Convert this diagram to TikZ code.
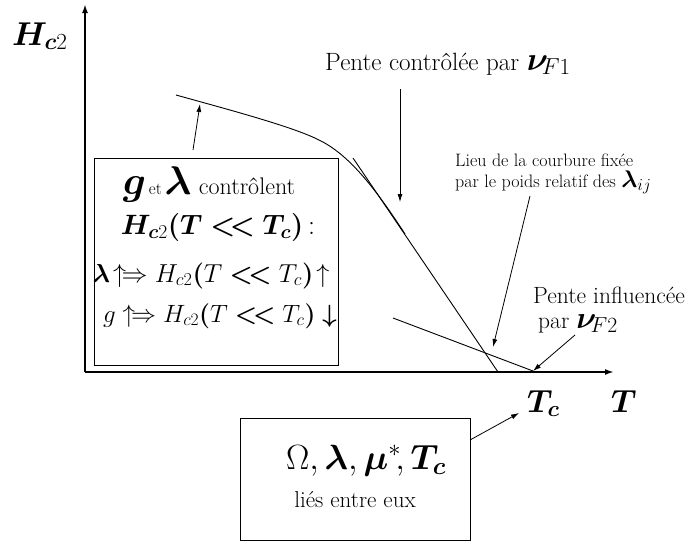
\RequirePackage{fix-cm}
\documentclass[tikz,border=0pt]{standalone}
\usepackage{amsmath}
\usepackage{bm}
\usetikzlibrary{arrows.meta}
\begin{document}
\begin{tikzpicture}[x=1pt,y=-1pt,
  axis/.style={line width=1.8pt,-{Latex[length=9pt,width=6pt]}},
  curve/.style={line width=0.9pt},
  conn/.style={line width=0.8pt,-{Latex[length=8pt,width=5pt]}},
  boxshape/.style={draw,line width=1.2pt,inner sep=0pt,anchor=north west},
  lbl/.style={inner sep=0pt,anchor=base west},
  clbl/.style={inner sep=0pt,anchor=base}]
\useasboundingbox (0,0) rectangle (688,542);

% axes
\coordinate (O) at (85,372);
\coordinate (ytip) at (85,4);
\coordinate (xtip) at (614,372);
\draw[axis] (O) -- (ytip);
\draw[axis] (O) -- (xtip);
\node[lbl] (hc2) at (12,45) {\fontsize{33}{36}\selectfont$\bm{H}_{\bm{c}2}$};
\node[lbl] (Tlab) at (611,412) {\fontsize{32}{36}\selectfont$\bm{T}$};
\node[lbl] (Tclab) at (527,412) {\fontsize{32}{36}\selectfont$\bm{T}_{\bm{c}}$};

% curve and tangents
\coordinate (c0) at (176,95);
\coordinate (c1) at (317,139);
\coordinate (c2) at (405,234);
\draw[curve] (c0) .. controls (230,110) and (290,126) .. (c1)
                  .. controls (345,152) and (370,180) .. (c2);
\coordinate (s0) at (353,158);
\coordinate (s1) at (498,372);
\draw[curve] (s0) -- (s1);
\coordinate (f0) at (393,318);
\coordinate (Tc) at (533,371);
\draw[curve] (f0) -- (Tc);

% left box
\node[boxshape,minimum width=244pt,minimum height=207pt] (box1) at (94,158) {};
\node[clbl] (l1) at (209,194) {\fontsize{40}{44}\selectfont$\bm{g}$\fontsize{17}{20}\selectfont\,et\,\fontsize{40}{44}\selectfont$\bm{\lambda}$\fontsize{24}{28}\selectfont\ contrôlent};
\node[clbl] (l2) at (218,234) {\fontsize{28}{32}\selectfont$\bm{H}_{\bm{c}2}\bm{(T\mathrel{<\!<}T}_{\bm{c}}\bm{)}$\,:};
\node[clbl] (l3) at (211,282) {\fontsize{26}{30}\selectfont$\bm{\lambda}\!\uparrow\!\Rightarrow H_{c2}\bm{(}T\mathrel{\bm{<\!<}}T_c\bm{)}\!\uparrow$};
\node[clbl] (l4) at (220,322) {\fontsize{25}{29}\selectfont$g\uparrow\!\Rightarrow H_{c2}\bm{(}T\mathrel{\bm{<\!<}}T_c\bm{)}\bm{\downarrow}$};
\coordinate (a1s) at (193,150);
\coordinate (a1e) at (200,104);
\draw[conn] (a1s) -- (a1e);

% top label
\node[lbl] (p1) at (325,70) {\fontsize{25}{28}\selectfont Pente contrôlée par \fontsize{33}{36}\selectfont$\bm{\nu}_{\!F1}$};
\coordinate (a2s) at (400,89);
\coordinate (a2e) at (400,202);
\draw[conn] (a2s) -- (a2e);

% courbure label
\node[lbl] (q1) at (455,166) {\fontsize{18}{20}\selectfont Lieu de la courbure fixée};
\node[lbl] (q2) at (455,187) {\fontsize{18}{20}\selectfont par le poids relatif des \fontsize{24}{26}\selectfont$\bm{\lambda}_{ij}$};
\coordinate (a3s) at (530,196);
\coordinate (a3e) at (493,347);
\draw[conn] (a3s) -- (a3e);

% pente influencee
\node[lbl] (r1) at (533,303) {\fontsize{23.5}{26}\selectfont Pente influencée};
\node[lbl] (r2) at (538,328) {\fontsize{23.5}{26}\selectfont par \fontsize{31}{34}\selectfont$\bm{\nu}_{\!F2}$};
\coordinate (a4s) at (575,335);
\draw[conn] (a4s) -- (Tc);

% bottom box
\node[boxshape,line width=1pt,minimum width=230pt,minimum height=122pt] (box2) at (240,418) {};
\node[clbl] (b1) at (366,469) {\fontsize{35}{38}\selectfont$\Omega,\bm{\lambda},\bm{\mu}^{*}\!,\bm{T}_{\bm{c}}$};
\node[clbl] (b2) at (355,507) {\fontsize{23}{26}\selectfont liés entre eux};
\coordinate (a5s) at (470,440);
\coordinate (a5e) at (519,413);
\draw[conn] (a5s) -- (a5e);
\end{tikzpicture}
\end{document}
